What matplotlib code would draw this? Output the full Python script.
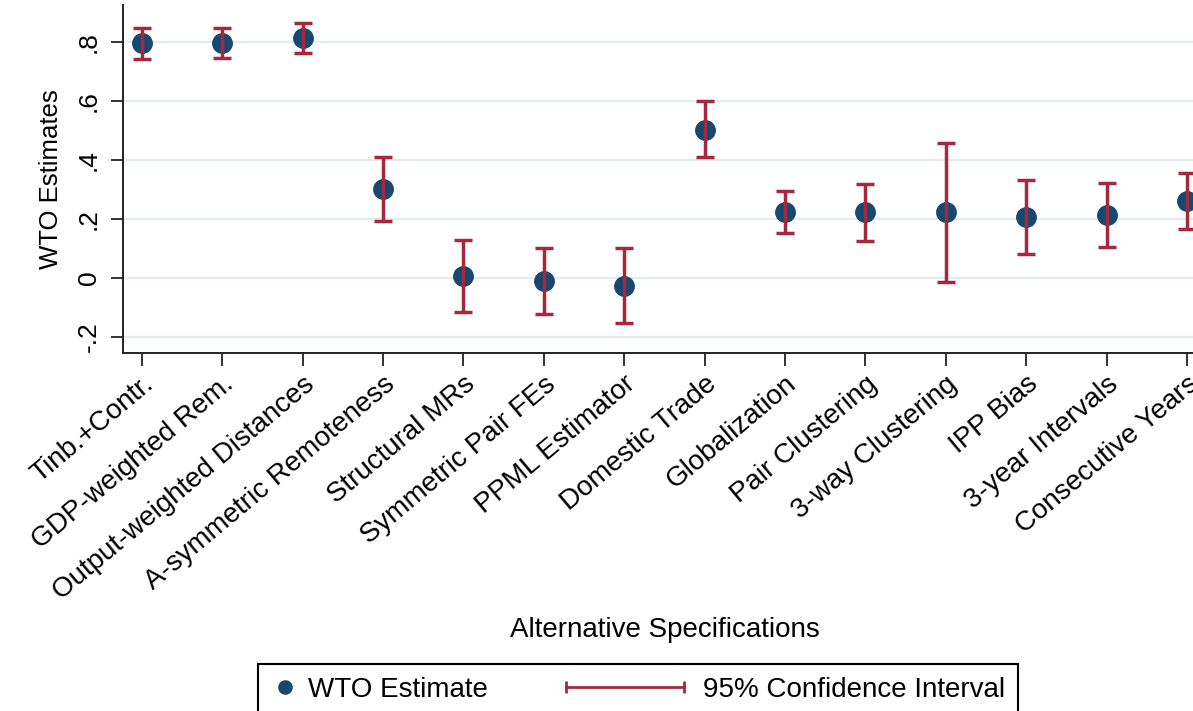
import numpy as np
import matplotlib
matplotlib.use("Agg")
import matplotlib.pyplot as plt
from matplotlib.lines import Line2D
from matplotlib.legend_handler import HandlerBase

plt.rcParams['font.family'] = ['Liberation Sans', 'DejaVu Sans']

# data
specs = ["Tinb.+Contr.", "GDP-weighted Rem.", "Output-weighted Distances",
         "A-symmetric Remoteness", "Structural MRs", "Symmetric Pair FEs",
         "PPML Estimator", "Domestic Trade", "Globalization", "Pair Clustering",
         "3-way Clustering", "IPP Bias", "3-year Intervals", "Consecutive Years"]
estimate = np.array([0.796, 0.796, 0.812, 0.302, 0.008, -0.010, -0.026,
                     0.502, 0.223, 0.223, 0.223, 0.207, 0.215, 0.260])
ci_low = np.array([0.742, 0.745, 0.762, 0.194, -0.114, -0.122, -0.151,
                   0.409, 0.151, 0.126, -0.015, 0.080, 0.106, 0.165])
ci_high = np.array([0.846, 0.846, 0.863, 0.411, 0.130, 0.102, 0.102,
                    0.599, 0.295, 0.319, 0.456, 0.333, 0.323, 0.357])
yticks = [-0.2, 0.0, 0.2, 0.4, 0.6, 0.8]
ytick_labels = ["-.2", "0", ".2", ".4", ".6", ".8"]

navy = "#17496f"
crimson = "#a6283e"

W, H = 1193, 711
fig = plt.figure(figsize=(W / 100, H / 100), dpi=100)
ax = fig.add_axes([123 / W, (H - 353) / H, (W - 123) / W, 348 / H])

x = np.arange(1, len(specs) + 1)
ax.plot(x, estimate, 'o', color=navy, ms=14, zorder=2)
ax.errorbar(x, estimate, yerr=[estimate - ci_low, ci_high - estimate],
            fmt='none', ecolor=crimson, elinewidth=2.5, capsize=6.5,
            capthick=2.5, zorder=3)

ax.set_xlim(0.767, 14.075)
ax.set_ylim(-0.254, 0.925)
ax.set_yticks(yticks)
ax.set_yticklabels(ytick_labels, rotation=90, va='center', fontsize=19)
ax.set_xticks(x)
ax.set_xticklabels(specs, rotation=40, ha='right', va='top',
                   rotation_mode='anchor', fontsize=20)
ax.tick_params(axis='both', length=9, width=1.3, color='#222222')
ax.tick_params(axis='y', pad=7)
ax.tick_params(axis='x', pad=4)

ax.grid(axis='y', color='#e4ecee', lw=1.6, zorder=0)
ax.set_axisbelow(True)
for s in ['top', 'right']:
    ax.spines[s].set_visible(False)
for s in ['left', 'bottom']:
    ax.spines[s].set_linewidth(1.4)
    ax.spines[s].set_color('#222222')

ax.set_ylabel("WTO Estimates", fontsize=18.5)
ax.yaxis.set_label_coords(-0.056, 0.5)
ax.set_xlabel("Alternative Specifications", fontsize=20, va='top')
ax.xaxis.set_label_coords(0.5065, -0.758)


# legend: CI handle drawn as a capped horizontal line
class CIHandler(HandlerBase):
    def create_artists(self, legend, orig_handle, xdescent, ydescent,
                       width, height, fontsize, trans):
        y = height / 2 - ydescent
        x0 = -xdescent - 3.6 * fontsize
        x1 = -xdescent + 0.65 * fontsize
        line = Line2D([x0, x1], [y, y], color=crimson, lw=2, marker='|',
                      ms=9, mew=2, transform=trans)
        return [line]


dot = Line2D([], [], marker='o', ls='none', color=navy, ms=9.5)
ci = Line2D([], [], color=crimson)
leg = fig.legend([dot, ci], ["WTO Estimate", "95% Confidence Interval"],
                 handler_map={ci: CIHandler()},
                 loc='upper left', bbox_to_anchor=(258 / W, 1 - 664 / H),
                 borderaxespad=0, ncol=2, fontsize=20, handlelength=1.0,
                 handletextpad=0.33, columnspacing=6.4, borderpad=0.47,
                 fancybox=False, framealpha=1, edgecolor='black')
leg.get_frame().set_linewidth(1.5)

plt.savefig("out.png", dpi=100)
